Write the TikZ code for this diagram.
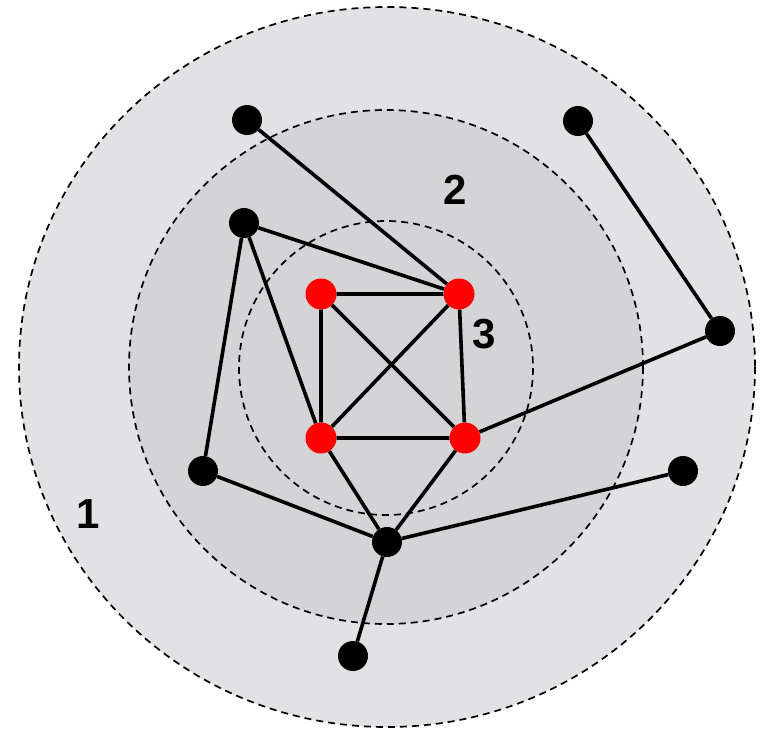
\documentclass[tikz,border=0pt]{standalone}
\usepackage{fontspec}
\setmainfont{Liberation Sans}
\definecolor{shellone}{RGB}{226,226,228}
\definecolor{shelltwo}{RGB}{212,212,214}
\tikzset{
  vertex/.style={circle, fill=black, inner sep=0pt, minimum size=30pt},
  core/.style={circle, fill=red, inner sep=0pt, minimum size=31pt},
  edge/.style={line width=3.6pt},
  shell/.style={line width=1.7pt, dash pattern=on 7pt off 5pt},
  level/.style={font=\fontsize{42}{44}\selectfont\bfseries}
}
\begin{document}
\begin{tikzpicture}[x=1pt,y=-1pt]
        \useasboundingbox (0,0) rectangle (768,731);
        \fill[white] (0,0) rectangle (768,731);

        % shells
        \draw[shell, fill=shellone] (387,367) ellipse (368 and 360);
        \draw[shell, fill=shelltwo] (386,367) circle (257);
        \draw[shell] (386,368) circle (147);

        % 3-core
        \node[core] (c1) at (321,294) {};
        \node[core] (c2) at (459,294) {};
        \node[core] (c3) at (321,438) {};
        \node[core] (c4) at (465,438) {};

        % other vertices
        \node[vertex] (a) at (247,120) {};
        \node[vertex] (b) at (578,121) {};
        \node[vertex] (d) at (244,223) {};
        \node[vertex] (e) at (720,331) {};
        \node[vertex] (f) at (203,471) {};
        \node[vertex] (g) at (683,471) {};
        \node[vertex] (h) at (387,542) {};
        \node[vertex] (k) at (353,656) {};

        \draw[edge] (c1) -- (c2) -- (c4) -- (c3) -- (c1);
        \draw[edge] (c1) -- (c4);
        \draw[edge] (c2) -- (c3);
        \draw[edge] (a) -- (c2);
        \draw[edge] (d) -- (c2);
        \draw[edge] (d) -- (c3);
        \draw[edge] (d) -- (f);
        \draw[edge] (b) -- (e);
        \draw[edge] (e) -- (c4);
        \draw[edge] (c3) -- (h);
        \draw[edge] (c4) -- (h);
        \draw[edge] (f) -- (h);
        \draw[edge] (g) -- (h);
        \draw[edge] (h) -- (k);

        % shell numbers
        \node[level] (l1) at (88,514) {1};
        \node[level] (l2) at (455,190) {2};
        \node[level] (l3) at (484,334) {3};
\end{tikzpicture}
\end{document}
